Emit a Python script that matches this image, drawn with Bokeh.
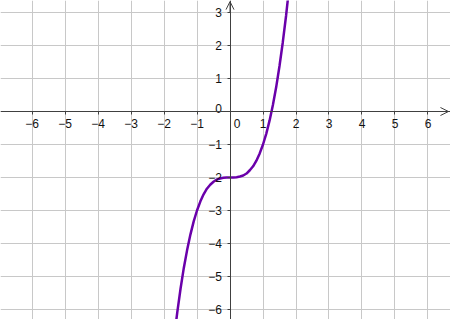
from bokeh.plotting import figure
from bokeh.models import (Range1d, LinearAxis, Grid, FixedTicker, Arrow, OpenHead,
                          ColumnDataSource)
from bokeh.core.properties import value
from bokeh.embed import file_html
from bokeh.resources import INLINE

# ---- data ----
x_ticks = [-6, -5, -4, -3, -2, -1, 1, 2, 3, 4, 5, 6]
x_tick_labels = ["−6", "−5", "−4", "−3", "−2", "−1", "1", "2", "3", "4", "5", "6"]
y_ticks = [-6, -5, -4, -3, -2, -1, 1, 2, 3]
y_tick_labels = ["−6", "−5", "−4", "−3", "−2", "−1", "1", "2", "3"]
grid_x = [-6, -5, -4, -3, -2, -1, 0, 1, 2, 3, 4, 5, 6]
grid_y = [-6, -5, -4, -3, -2, -1, 0, 1, 2, 3]

curve_x = [-1.7, -1.6, -1.5, -1.4, -1.3, -1.2, -1.1, -1.0, -0.9, -0.8, -0.7, -0.6,
           -0.5, -0.4, -0.3, -0.2, -0.1, 0.0, 0.1, 0.2, 0.3, 0.4, 0.5, 0.6,
           0.7, 0.8, 0.9, 1.0, 1.1, 1.2, 1.3, 1.4, 1.5, 1.6, 1.7, 1.8]
curve_y = [-6.91, -6.10, -5.38, -4.74, -4.20, -3.73, -3.33, -3.00, -2.73, -2.51, -2.34, -2.22,
           -2.13, -2.06, -2.03, -2.01, -2.00, -2.00, -2.00, -1.99, -1.97, -1.94, -1.88, -1.78,
           -1.66, -1.49, -1.27, -1.00, -0.67, -0.27, 0.20, 0.74, 1.38, 2.10, 2.91, 3.83]

AXIS = "#404040"
GRID = "#c8c8c8"
CURVE = "#6a00aa"
FONT = "Liberation Sans"

p = figure(width=450, height=319,
           x_range=Range1d(-6.955, 6.682), y_range=Range1d(-6.303, 3.364),
           x_axis_type=None, y_axis_type=None,
           toolbar_location=None, output_backend="svg",
           min_border=0, outline_line_color=None,
           background_fill_color="white", border_fill_color="white")

# grid lines
p.add_layout(Grid(dimension=0, ticker=FixedTicker(ticks=grid_x),
                  grid_line_color=GRID, grid_line_width=1))
p.add_layout(Grid(dimension=1, ticker=FixedTicker(ticks=grid_y),
                  grid_line_color=GRID, grid_line_width=1))

# axes through the origin
xa = LinearAxis(fixed_location=0, ticker=FixedTicker(ticks=x_ticks),
                major_label_overrides={t: l for t, l in zip(x_ticks, x_tick_labels)})
ya = LinearAxis(fixed_location=0, ticker=FixedTicker(ticks=y_ticks),
                major_label_overrides={t: l for t, l in zip(y_ticks, y_tick_labels)})
for ax in (xa, ya):
    ax.axis_line_color = AXIS
    ax.axis_line_width = 1
    ax.major_tick_line_color = AXIS
    ax.major_tick_in = 0
    ax.major_tick_out = 3
    ax.minor_tick_line_color = None
    ax.major_label_text_font = FONT
    ax.major_label_text_font_size = "12px"
    ax.major_label_text_color = "#111111"
xa.major_label_standoff = 4
ya.major_label_standoff = 5
p.add_layout(xa, "below")
p.add_layout(ya, "left")

# the two origin labels
p.text(x=[0], y=[0], text=["0"], x_offset=7, y_offset=7,
       text_align="center", text_baseline="top",
       text_font=value(FONT), text_font_size="12px", text_color="#111111")
p.text(x=[0], y=[0], text=["0"], x_offset=-8, y_offset=-3,
       text_align="right", text_baseline="alphabetic",
       text_font=value(FONT), text_font_size="12px", text_color="#111111")

# arrow heads
p.add_layout(Arrow(end=OpenHead(size=8, line_color=AXIS, line_width=1),
                   x_start=0, y_start=3.0, x_end=0, y_end=3.33,
                   line_color=AXIS, line_width=1))
p.add_layout(Arrow(end=OpenHead(size=8, line_color=AXIS, line_width=1),
                   x_start=6.2, y_start=0, x_end=6.62, y_end=0,
                   line_color=AXIS, line_width=1))

# the function curve
src = ColumnDataSource(data=dict(x=curve_x, y=curve_y))
p.line("x", "y", source=src, line_color=CURVE, line_width=2.5)

open("out.html", "w").write(file_html(p, INLINE))
